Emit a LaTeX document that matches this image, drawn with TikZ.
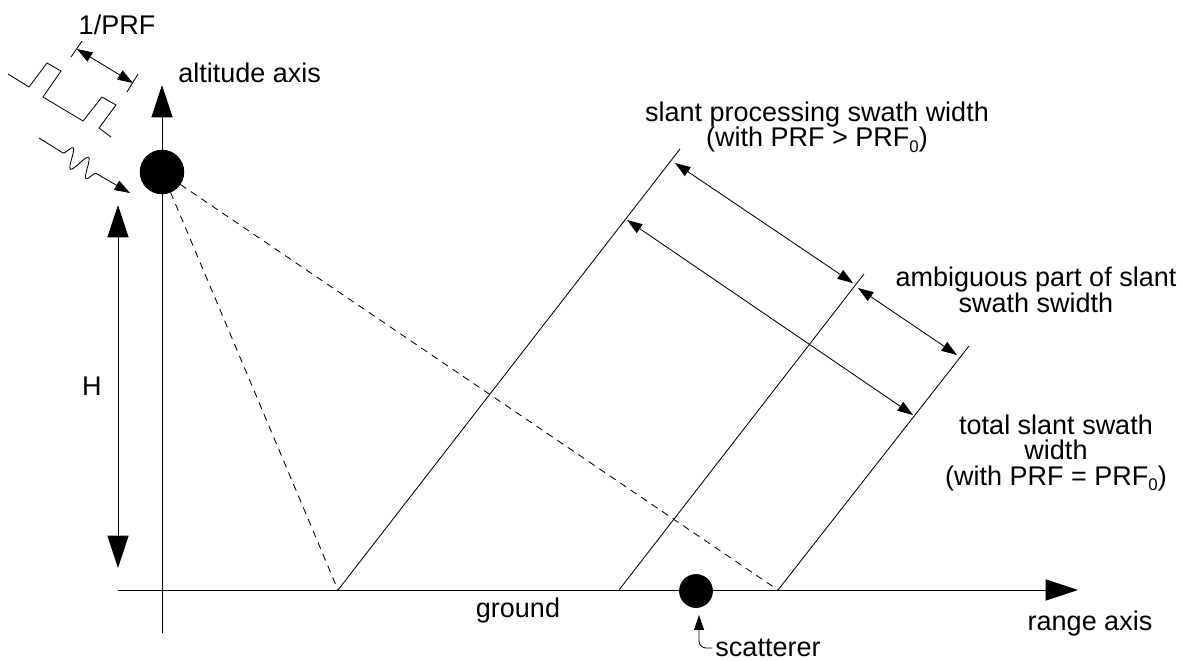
\documentclass[tikz,border=0pt]{standalone}
\usepackage{fontspec}
\setsansfont{Liberation Sans}
\usepackage{tikz}
\usetikzlibrary{arrows.meta}
\usetikzlibrary{decorations.pathmorphing}
\usetikzlibrary{positioning}
\newcommand{\Zero}{\raisebox{-4pt}{\fontsize{12}{12}\selectfont 0}}

\begin{document}
\begin{tikzpicture}[x=0.025cm, y=-0.025cm, line width=0.6pt,
		bigtip/.style={-{Triangle[length=23pt,width=15pt]}},
		bigboth/.style={{Triangle[length=23pt,width=15pt]}-{Triangle[length=23pt,width=15pt]}},
		smalltip/.style={-{Triangle[length=11pt,width=7.5pt]}},
		smallboth/.style={{Triangle[length=11pt,width=7.5pt]}-{Triangle[length=11pt,width=7.5pt]}},
		dot/.style={draw, circle, fill=black, inner sep=0pt},
		lbl/.style={inner sep=0pt, align=center},
		ray/.style={dash pattern=on 5pt off 4pt}]
			\sffamily\fontsize{19.2}{18}\selectfont
			\useasboundingbox (0,0) rectangle (1183,661);
			% axes
			\coordinate (AltBot) at (162,633);
			\coordinate (AltTop) at (162,85);
			\coordinate (RangeL) at (118,590);
			\coordinate (RangeR) at (1078,590);
			\draw[bigtip] (AltBot) -- (AltTop);
			\draw[bigtip] (RangeL) -- (RangeR);
			\node[lbl, anchor=west] (AltLabel) at (178,73) {altitude axis};
			\node[lbl] (RangeLabel) at (1090,624) {range axis};
			\node[lbl] (Ground) at (518,611) {ground};
			% slant lines
			\coordinate (G1) at (338,590);
			\coordinate (T1) at (680,149);
			\coordinate (G2) at (619,590);
			\coordinate (T2) at (864,274);
			\coordinate (G3) at (778,590);
			\coordinate (T3) at (969,346);
			\draw (G1) -- (T1);
			\draw (G2) -- (T2);
			\draw (G3) -- (T3);
			% radar and rays
			\node[dot, minimum size=31pt] (Radar) at (162,172) {};
			\draw[ray] (Radar) -- (G1);
			\draw[ray] (Radar) -- (G3);
			\fill (Radar) circle (15.5pt);
			% height
			\coordinate (HTop) at (118,205);
			\coordinate (HBot) at (118,568);
			\draw[bigboth] (HTop) -- (HBot) node[midway, left=5pt] {H};
			% swath widths
			\coordinate (A1) at (675,163);
			\coordinate (A2) at (853,283);
			\coordinate (B1) at (627,220);
			\coordinate (B2) at (913,415);
			\coordinate (C1) at (858,288);
			\coordinate (C2) at (957,355);
			\draw[smallboth] (A1) -- (A2);
			\draw[smallboth] (B1) -- (B2);
			\draw[smallboth] (C1) -- (C2);
			\node[lbl] (Processing) at (817,127) {slant processing swath width\\(with PRF > PRF\Zero)};
			\node[lbl] (Ambiguous) at (1036,290) {ambiguous part of slant\\swath swidth};
			\node[lbl] (Total) at (1056,453) {total slant swath\\width\\(with PRF = PRF\Zero)};
			% scatterer
			\node[dot, minimum size=23.4pt] (Scatterer) at (696,591) {};
			\node[lbl, inner xsep=2pt] (ScatLabel) at (768,648) {scatterer};
			\coordinate (ScatTip) at (699,615);
			\draw[-{Triangle[length=10.5pt,width=7pt]}, rounded corners=5pt] (ScatLabel.west) -| (ScatTip);
			% pulses
			\draw (8,74) -- (29,87) -- (47,63) -- (61,71) -- (43,97) -- (83,121) -- (102,97) -- (116,105) -- (99,128) -- (111,137);
			\coordinate (Tick1) at (77,49);
			\coordinate (Tick2) at (133,83);
			\draw (71,57) -- (82,41);
			\draw (127,92) -- (138,74);
			\draw[smallboth] (Tick1) -- (Tick2);
			\node[lbl] (Period) at (117,25) {1/PRF};
			% echo
			\coordinate (EchoA) at (39,138);
			\coordinate (EchoB) at (63,153);
			\coordinate (EchoC) at (97,174);
			\coordinate (EchoD) at (130,193);
			\draw[smalltip] (EchoA) -- (EchoB)
				decorate[decoration={snake, amplitude=7pt, segment length=13pt}] {-- (EchoC)}
				-- (EchoD);
		\end{tikzpicture}
\end{document}
